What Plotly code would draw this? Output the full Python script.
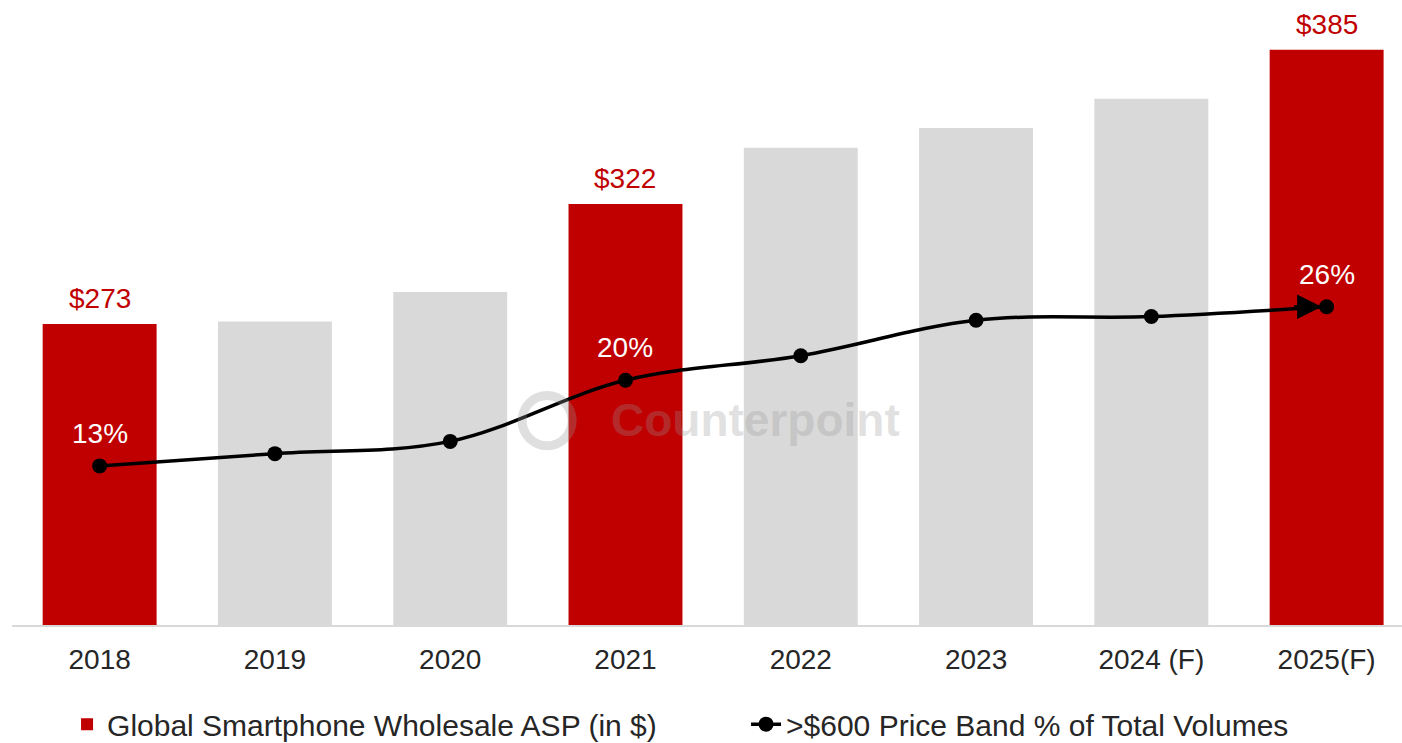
import plotly.graph_objects as go

# Chart data
years = ["2018", "2019", "2020", "2021", "2022", "2023", "2024 (F)", "2025(F)"]
asp_usd = [273, 274, 286, 322, 345, 353, 365, 385]
premium_share_pct = [13, 14, 15, 20, 22, 24.9, 25.2, 26]
highlight_years = ["2018", "2021", "2025(F)"]

RED = "#C00000"
GREY = "#D9D9D9"
FONT = "Liberation Sans, Arial, sans-serif"

bar_colors = [RED if y in highlight_years else GREY for y in years]

fig = go.Figure()

fig.add_trace(go.Bar(
    x=years,
    y=asp_usd,
    marker=dict(color=bar_colors, line=dict(width=0)),
    name="Global Smartphone Wholesale ASP (in $)",
    yaxis="y",
))

fig.add_trace(go.Scatter(
    x=years,
    y=premium_share_pct,
    mode="lines+markers",
    line=dict(color="black", width=3.5, shape="spline", smoothing=1),
    marker=dict(color="black", size=15),
    name=">$600 Price Band % of Total Volumes",
    yaxis="y2",
))

annotations = []
for i, (yr, v, p) in enumerate(zip(years, asp_usd, premium_share_pct)):
    if yr in highlight_years:
        # ASP value above the highlighted bar
        annotations.append(dict(
            x=i, y=v, xref="x", yref="y", text=f"${v}",
            showarrow=False, yanchor="bottom", yshift=8,
            font=dict(family=FONT, size=28, color=RED),
        ))
        # share value above the line point
        annotations.append(dict(
            x=i, y=p, xref="x", yref="y2", text=f"{p:g}%",
            showarrow=False, yanchor="bottom", yshift=15,
            font=dict(family=FONT, size=28, color="white"),
        ))

# arrowhead leading into the final point of the line
annotations.append(dict(
    x=len(years) - 1, y=premium_share_pct[-1], xref="x", yref="y2",
    text="", showarrow=True, ax=-34, ay=0,
    arrowhead=2, arrowsize=1.4, arrowwidth=3.5, arrowcolor="black",
    standoff=5,
))

# faint brand watermark
annotations.append(dict(
    x=0.535, y=0.335, xref="paper", yref="paper",
    text="<b>Counterpoint</b>", showarrow=False,
    font=dict(family=FONT, size=46, color="rgba(150,150,150,0.30)"),
))

shapes = [dict(
    type="circle", xref="paper", yref="paper",
    x0=0.367, x1=0.403, y0=0.293, y1=0.375,
    line=dict(color="rgba(150,150,150,0.30)", width=9),
)]

fig.update_layout(
    width=1402,
    height=743,
    margin=dict(l=12, r=0, t=13, b=118, autoexpand=False),
    paper_bgcolor="white",
    plot_bgcolor="white",
    bargap=0.35,
    font=dict(family=FONT, size=28, color="#262626"),
    xaxis=dict(
        type="category",
        range=[-0.5, 7.43],
        showgrid=False,
        showline=True,
        linecolor="#D9D9D9",
        linewidth=2,
        ticks="",
        ticklabelstandoff=8,
        tickfont=dict(family=FONT, size=28, color="#262626"),
        fixedrange=True,
    ),
    yaxis=dict(
        range=[150, 400],
        visible=False,
        showgrid=False,
    ),
    yaxis2=dict(
        range=[0, 50],
        overlaying="y",
        side="right",
        visible=False,
        showgrid=False,
    ),
    legend=dict(
        orientation="h",
        x=0.0396,
        xanchor="left",
        y=-0.162,
        yanchor="middle",
        font=dict(family=FONT, size=30, color="#262626"),
        entrywidth=634,
        entrywidthmode="pixels",
        bgcolor="rgba(0,0,0,0)",
    ),
    annotations=annotations,
    shapes=shapes,
)

fig.write_html("out.html")
